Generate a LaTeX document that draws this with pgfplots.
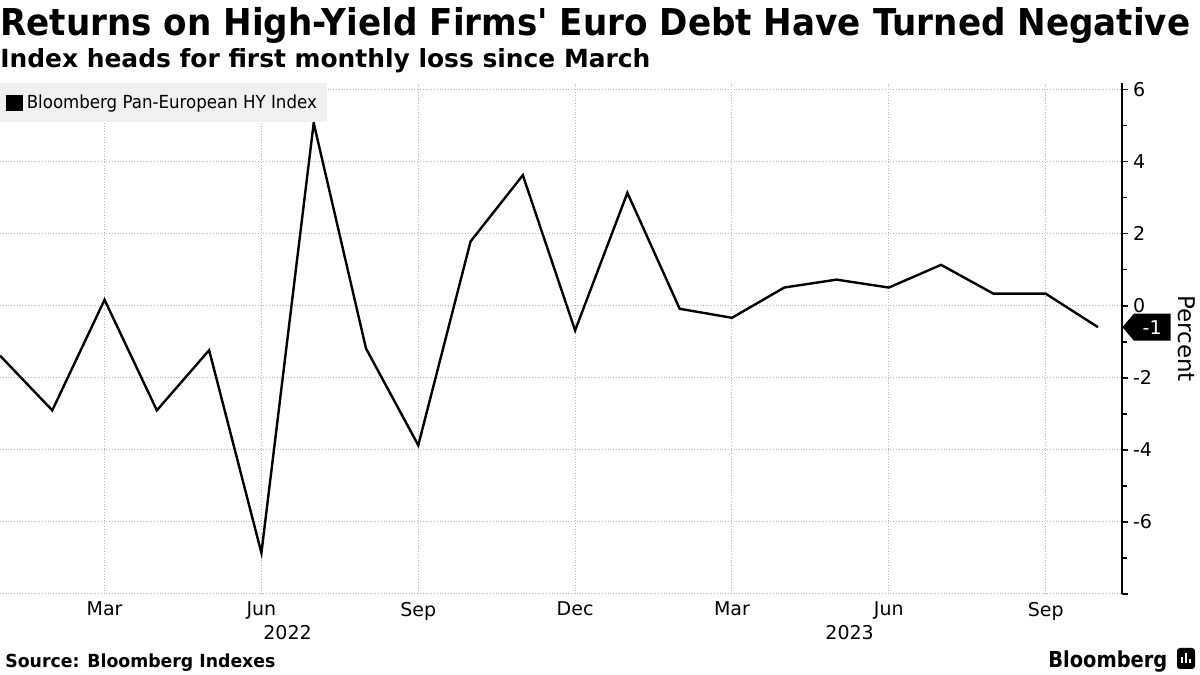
\documentclass[border=0pt]{standalone}
\usepackage{fontspec}
\setmainfont{DejaVu Sans}[Ligatures=TeXOff]
\usepackage{graphicx}
\usepackage{pgfplots}
\pgfplotsset{compat=1.18}
\usetikzlibrary{shapes.symbols}
\definecolor{gridgray}{HTML}{B8B8B8}
\definecolor{legbg}{HTML}{F0F0F0}
\begin{document}
\begin{tikzpicture}
\path[use as bounding box] (0pt,0pt) rectangle (600pt,337.5pt);
% Title and subtitle
\node[anchor=base west, inner sep=0pt] at (0pt,319.5pt) {\resizebox{595pt}{\height}{\fontsize{18.5pt}{22pt}\selectfont\bfseries Returns on High-Yield Firms' Euro Debt Have Turned Negative}};
\node[anchor=base west, inner sep=0pt] at (0pt,303.5pt) {\resizebox{325pt}{\height}{\fontsize{12.5pt}{14pt}\selectfont\bfseries Index heads for first monthly loss since March}};
\begin{axis}[
  at={(0pt,40.5pt)}, anchor=south west,
  scale only axis, width=561pt, height=255.5pt,
  xmin=0, xmax=21.46, ymin=-8, ymax=6.19,
  axis y line*=right, axis x line*=bottom,
  x axis line style={draw=none},
  y axis line style={black, line width=0.8pt},
  xtick={2,5,8,11,14,17,20},
  xticklabels={Mar,Jun,Sep,Dec,Mar,Jun,Sep},
  xtick style={draw=none},
  ytick={-8,-6,-4,-2,0,2,4,6},
  yticklabels={,-6,-4,-2,0,2,4,6},
  minor ytick={-7,-5,-3,-1,1,3,5},
  ytick style={black, line width=0.6pt},
  tick align=outside,
  major tick length=3pt, minor tick length=2.5pt,
  grid=major,
  major grid style={gridgray, densely dotted, line width=0.5pt},
  minor grid style={draw=none},
  tick label style={font=\fontsize{9.5pt}{11pt}\selectfont},
  /pgf/number format/assume math mode=true,
  yticklabel style={anchor=west, xshift=-1pt},
  xticklabel style={yshift=2.5pt},
  clip=false,
  legend style={at={(rel axis cs:0,1)}, anchor=north west, fill=legbg, draw=none,
    inner xsep=3pt, inner ysep=3.5pt, font=\fontsize{9pt}{10pt}\selectfont},
  legend cell align=left,
  legend image code/.code={\fill[black] (0pt,-3.5pt) rectangle (7pt,3.5pt);},
]
\addplot[black, line width=1.2pt, line join=miter] coordinates {
(0,-1.38) (1,-2.90) (2,0.17) (3,-2.90) (4,-1.23) (5,-6.86) (6,5.08) (7,-1.18)
(8,-3.87) (9,1.79) (10,3.63) (11,-0.68) (12,3.14) (13,-0.08) (14,-0.33)
(15,0.51) (16,0.73) (17,0.51) (18,1.14) (19,0.34) (20,0.34) (21,-0.59)
};
\addlegendentry{\resizebox{145pt}{\height}{Bloomberg Pan-European HY Index}}
\node[signal, signal to=west, signal pointer angle=100, fill=black, text=white, anchor=west,
  minimum height=13.5pt, minimum width=24pt, inner sep=1pt,
  font=\fontsize{9.5pt}{11pt}\selectfont] at (axis cs:21.46,-0.59) {-1};
\node[rotate=-90, font=\fontsize{11.5pt}{13pt}\selectfont] at ([xshift=32.5pt]rel axis cs:1,0.5) {Percent};
\node[font=\fontsize{9.5pt}{11pt}\selectfont] at ([yshift=-19.5pt]axis cs:5.5,-8) {2022};
\node[font=\fontsize{9.5pt}{11pt}\selectfont] at ([yshift=-19.5pt]axis cs:16.25,-8) {2023};
\end{axis}
% Footer
\node[anchor=base west, inner sep=0pt] at (2.5pt,3.5pt) {\resizebox{135pt}{\height}{\fontsize{9pt}{10pt}\selectfont\bfseries Source: Bloomberg Indexes}};
\node[anchor=base west, inner sep=0pt] at (524pt,3.5pt) {\resizebox{59.5pt}{\height}{\fontsize{11pt}{12pt}\selectfont\bfseries Bloomberg}};
\fill[black, rounded corners=1.5pt] (588.5pt,3pt) rectangle (597.5pt,13.5pt);
\fill[white] (590.5pt,6pt) rectangle (591.5pt,9pt);
\fill[white] (592.5pt,6pt) rectangle (593.5pt,11pt);
\fill[white] (594.5pt,6pt) rectangle (595.5pt,8pt);
\end{tikzpicture}
\end{document}
